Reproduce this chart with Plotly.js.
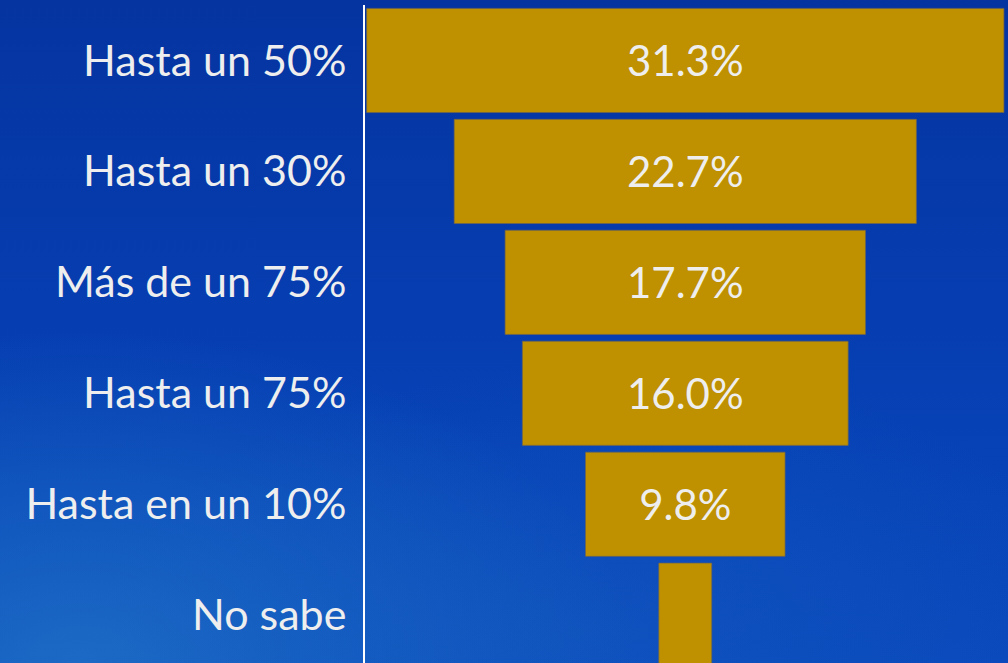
<!DOCTYPE html>
<html>
<head>
<meta charset="utf-8">
<script src="https://cdn.plot.ly/plotly-3.0.1.min.js"></script>
<style>
html, body { margin: 0; padding: 0; }
body {
  width: 1008px; height: 663px; overflow: hidden;
  background:
    radial-gradient(ellipse 55% 50% at 8% 100%, rgba(35,120,200,0.7), rgba(35,120,200,0) 100%),
    radial-gradient(ellipse 50% 40% at 60% 95%, rgba(30,105,195,0.3), rgba(30,105,195,0) 100%),
    linear-gradient(180deg, #0534a0 0%, #063db0 45%, #0744b8 75%, #0948bc 100%);
}
#chart { width: 1008px; height: 663px; }
</style>
</head>
<body>
<div id="chart"></div>
<script>
const categories = ["Hasta un 50%", "Hasta un 30%", "Más de un 75%", "Hasta un 75%", "Hasta en un 10%", "No sabe"];
const values = [31.3, 22.7, 17.7, 16.0, 9.8, 2.6];
const showLabel = [true, true, true, true, true, false];

const trace = {
  type: 'funnel',
  y: categories,
  x: values,
  orientation: 'h',
  marker: { color: '#BF9000', line: { color: 'rgba(110,100,80,0.7)', width: 1 } },
  connector: { visible: false },
  texttemplate: showLabel.map(s => s ? '%{x:.1f}%' : ''),
  textposition: 'inside',
  insidetextanchor: 'middle',
  constraintext: 'none',
  textfont: { family: 'Lato, sans-serif', size: 42, color: '#EEEEEE' },
  hoverinfo: 'skip'
};

const layout = {
  width: 1008, height: 663,
  margin: { l: 365, r: 0, t: 5, b: 0 },
  paper_bgcolor: 'rgba(0,0,0,0)',
  plot_bgcolor: 'rgba(0,0,0,0)',
  funnelgap: 0.061,
  showlegend: false,
  font: { family: 'Lato, sans-serif', color: '#EEEEEE' },
  xaxis: { range: [-15.73, 15.85], visible: false, fixedrange: true },
  yaxis: {
    type: 'category',
    range: [5.431, -0.5],
    showline: true, linecolor: '#FFFFFF', linewidth: 2,
    showgrid: false, zeroline: false, ticks: '',
    ticklabelstandoff: 8,
    tickfont: { family: 'Lato, sans-serif', size: 43, color: '#EEEEEE' },
    fixedrange: true
  }
};

Plotly.newPlot('chart', [trace], layout, { displayModeBar: false, staticPlot: true });
</script>
</body>
</html>
